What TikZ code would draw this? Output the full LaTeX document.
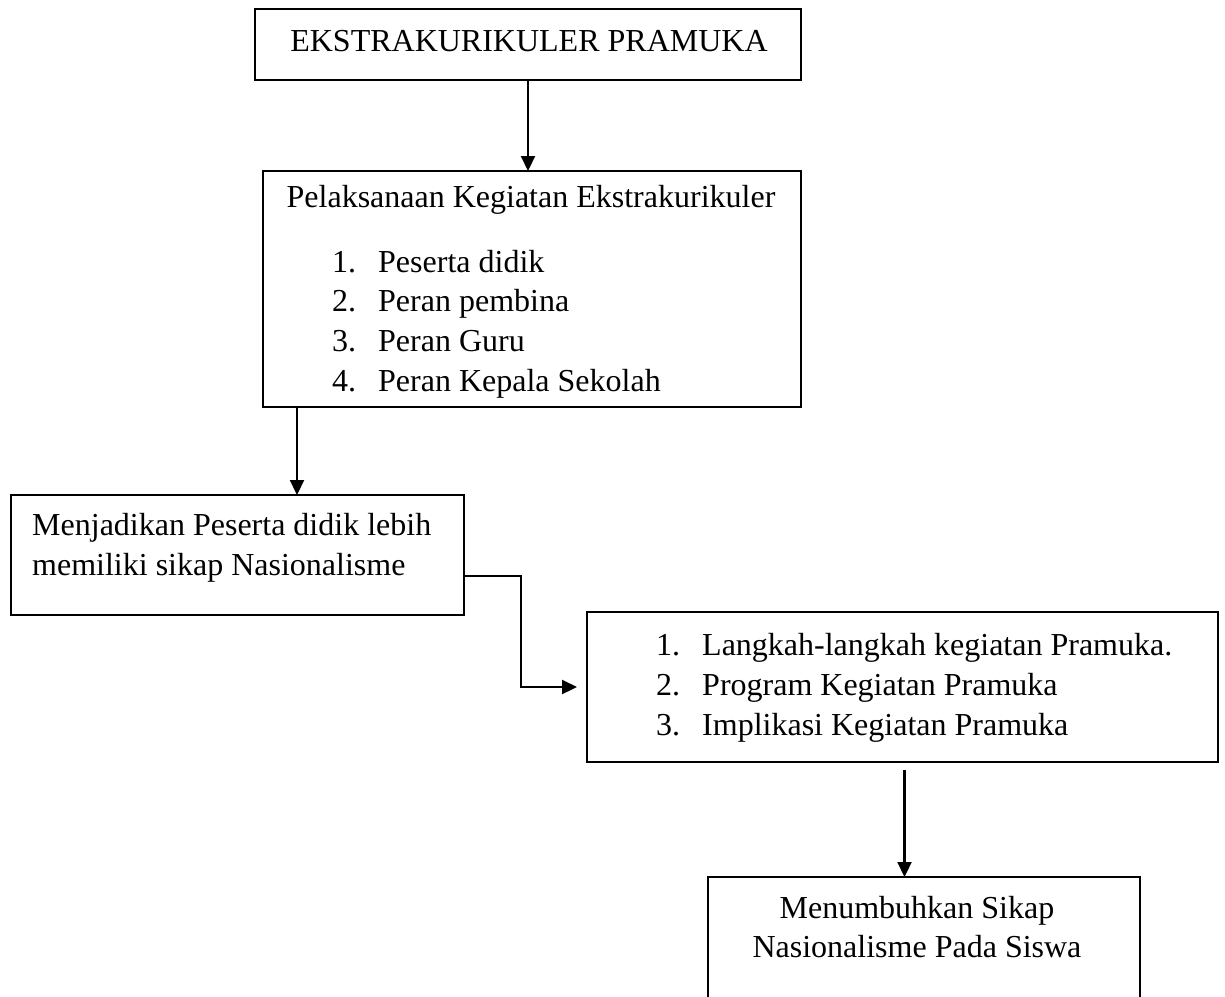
\documentclass[tikz,border=0pt]{standalone}
\usepackage{fontspec}
\setmainfont{Liberation Serif}
\usetikzlibrary{arrows.meta}
\begin{document}
\begin{tikzpicture}[x=1pt,y=-1pt,
  box/.style={draw, line width=1.8pt, rectangle, anchor=north west, inner sep=0pt, outer sep=0pt},
  txt/.style={anchor=base west, inner sep=0pt, font=\fontsize{32}{40}\selectfont},
  ctxt/.style={anchor=base, inner sep=0pt, font=\fontsize{32}{40}\selectfont},
  conn/.style={line width=2.2pt, -{Triangle[length=15pt,width=14pt]}}]
\useasboundingbox (0,0) rectangle (1225,996);
\clip (0,0) rectangle (1225,996);
% boxes
\node[box, minimum width=546pt, minimum height=71pt] (b1) at (255,9) {};
\node[box, minimum width=538pt, minimum height=236pt] (b2) at (263,171) {};
\node[box, minimum width=453pt, minimum height=120pt] (b3) at (11,495) {};
\node[box, minimum width=631pt, minimum height=150pt] (b4) at (587,612) {};
\node[box, minimum width=432pt, minimum height=160pt] (b5) at (708,877) {};
% texts
\node[ctxt] (t1) at (529,51) {EKSTRAKURIKULER PRAMUKA};
\node[ctxt] (t2) at (531,207) {Pelaksanaan Kegiatan Ekstrakurikuler};
\node[txt] (n21) at (332,272) {1.};
\node[txt] (i21) at (378,272) {Peserta didik};
\node[txt] (n22) at (332,311.7) {2.};
\node[txt] (i22) at (378,311.7) {Peran pembina};
\node[txt] (n23) at (332,351.4) {3.};
\node[txt] (i23) at (378,351.4) {Peran Guru};
\node[txt] (n24) at (332,391.1) {4.};
\node[txt] (i24) at (378,391.1) {Peran Kepala Sekolah};
\node[txt] (t31) at (32,535) {Menjadikan Peserta didik lebih};
\node[txt] (t32) at (32,575) {memiliki sikap Nasionalisme};
\node[txt] (n41) at (656,655) {1.};
\node[txt] (i41) at (702,655) {Langkah-langkah kegiatan Pramuka.};
\node[txt] (n42) at (656,695) {2.};
\node[txt] (i42) at (702,695) {Program Kegiatan Pramuka};
\node[txt] (n43) at (656,735) {3.};
\node[txt] (i43) at (702,735) {Implikasi Kegiatan Pramuka};
\node[ctxt] (t51) at (917,918) {Menumbuhkan Sikap};
\node[ctxt] (t52) at (917,957) {Nasionalisme Pada Siswa};
% connectors
\draw[conn] (b1.south) -- (b1.south |- b2.north);
\coordinate (c2) at ([xshift=34pt]b2.south west);
\draw[conn] (c2) -- (c2 |- b3.north);
\coordinate (c3) at ([yshift=-21pt]b3.east);
\draw[conn, shorten >=10pt] (c3) -- ++(57,0) |- (b4.west);
\coordinate (c4) at ([xshift=2pt]b4.south);
\draw[conn, shorten <=8pt] (c4) -- (c4 |- b5.north);
\end{tikzpicture}
\end{document}
